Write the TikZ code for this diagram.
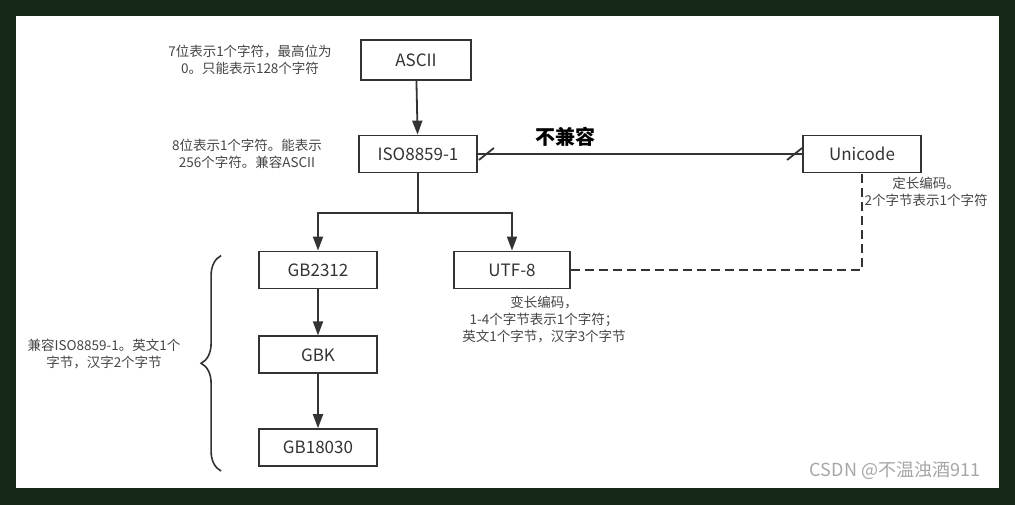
\documentclass[tikz,border=0pt]{standalone}
\usepackage{fontspec}
\setmainfont{Noto Sans CJK SC}
\usepackage{tikz}
\usetikzlibrary{positioning,arrows.meta,decorations.pathreplacing}
\definecolor{framegreen}{RGB}{22,40,22}
\definecolor{linegray}{RGB}{51,51,51}
\definecolor{notegray}{RGB}{70,70,70}
\tikzset{
	>={Triangle[length=14pt,width=10pt]}, % filled arrow heads
	box/.style={draw=linegray, line width=1.8pt, minimum width=118pt, minimum height=37pt, inner sep=0pt, text=linegray, font=\fontsize{17}{20}\selectfont}, % the encoding boxes
	note/.style={align=center, text=notegray, font=\fontsize{13.5}{17}\selectfont}, % small explanations
	link/.style={draw=linegray, line width=1.8pt}, % plain connectors
	dashlink/.style={link, dash pattern=on 9pt off 5pt}, % dashed connector
}

\begin{document}
\begin{tikzpicture}[x=1pt, y=-1pt]
	\useasboundingbox (0,0) rectangle (1015,505);
	\fill[framegreen] (0,0) rectangle (1015,505);
	\fill[white] (16,16) rectangle (999,488);

	\node[box, minimum width=110pt, minimum height=40pt] (ascii) at (416,60) {ASCII};
	\node[box] (iso) at (418,154) {ISO8859-1};
	\node[box] (unicode) at (862,154) {Unicode};
	\node[box] (gb2312) at (318,270) {GB2312};
	\node[box, below=46pt of gb2312] (gbk) {GBK};
	\node[box, below=54pt of gbk] (gb18030) {GB18030};
	\node[box, minimum width=116pt] (utf8) at (512,270) {UTF-8};

	\node[note] (asciinote) at (250,60) {7位表示1个字符，最高位为\\0。只能表示128个字符};
	\node[note] (isonote) at (247,154) {8位表示1个字符。能表示\\256个字符。兼容ASCII};
	\node[note] (uninote) at (926,192) {定长编码。\\2个字节表示1个字符};
	\node[note] (utfnote) at (544,319) {变长编码，\\1-4个字节表示1个字符；\\英文1个字节，汉字3个字节};
	\node[note] (gbnote) at (104,354) {兼容ISO8859-1。英文1个\\字节，汉字2个字节};
	\node[text=black!35, font=\fontsize{18}{20}\selectfont] (mark) at (895,471) {CSDN @不温浊酒911};

	\draw[link,->] (ascii) -- (iso);
	\draw[link,->] (iso.south) -- ++(0,40) -| (gb2312);
	\draw[link,->] (iso.south) -- ++(0,40) -| (utf8);
	\draw[link,->] (gb2312) -- (gbk);
	\draw[link,->] (gbk) -- (gb18030);
	\draw[link] (iso) -- node[pos=0.27, above=3pt, text=black, font=\fontsize{20}{22}\selectfont\bfseries] {不兼容} (unicode);
	\draw[link] ([shift={(1,6)}]iso.east) -- ++(15,-12);
	\draw[link] ([shift={(-15,6)}]unicode.west) -- ++(15,-12);
	\draw[dashlink] (utf8) -| (unicode);

	% brace grouping the GB encodings
	\coordinate (bracetop) at ([shift={(-37,5)}]gb2312.north west);
	\coordinate (bracebot) at ([shift={(-37,4)}]gb18030.south west);
	\draw[link, line width=1.6pt, decorate, decoration={brace, amplitude=20pt}] (bracebot) -- (bracetop);
\end{tikzpicture}
\end{document}
